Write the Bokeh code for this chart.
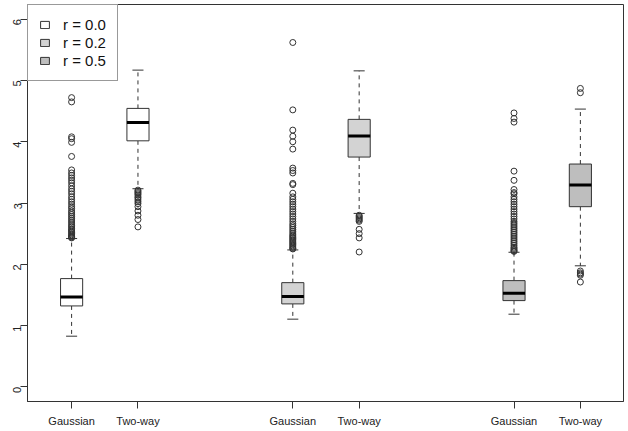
import math
from bokeh.plotting import figure
from bokeh.models import ColumnDataSource, Range1d, FixedTicker
from bokeh.embed import file_html
from bokeh.resources import INLINE

# ---- data ----
groups = ["r = 0.0", "r = 0.2", "r = 0.5"]
methods = ["Gaussian", "Two-way"]
fills = ["#ffffff", "#d3d3d3", "#bebebe"]

# order: (r=0.0,Gaussian), (r=0.0,Two-way), (r=0.2,Gaussian), ...
lower_whisker = [0.826, 3.233, 1.104, 2.830, 1.185, 1.975]
q1 = [1.320, 4.015, 1.353, 3.750, 1.407, 2.940]
median = [1.467, 4.313, 1.472, 4.093, 1.528, 3.294]
q3 = [1.766, 4.544, 1.700, 4.365, 1.733, 3.636]
upper_whisker = [2.420, 5.169, 2.234, 5.157, 2.196, 4.533]

outliers = [
    [4.72, 4.65, 4.08, 4.05, 3.99, 3.76, 3.54, 3.49, 3.45, 3.41, 3.37, 3.33, 3.28,
     3.23, 3.19, 3.15, 3.10, 3.06, 3.02, 2.98, 2.94, 2.91, 2.87, 2.84, 2.81, 2.78,
     2.75, 2.72, 2.69, 2.66, 2.63, 2.61, 2.58, 2.56, 2.54, 2.52, 2.50, 2.48, 2.46,
     2.45, 2.44, 2.43],
    [3.21, 3.19, 3.17, 3.15, 3.13, 3.10, 3.08, 3.05, 3.02, 2.99, 2.94, 2.87, 2.80,
     2.73, 2.61],
    [5.62, 4.52, 4.19, 4.09, 4.00, 3.88, 3.57, 3.53, 3.49, 3.32, 3.30, 3.16, 3.10,
     3.06, 3.02, 2.98, 2.94, 2.90, 2.86, 2.82, 2.78, 2.74, 2.70, 2.66, 2.63, 2.60,
     2.57, 2.54, 2.51, 2.48, 2.46, 2.44, 2.42, 2.40, 2.38, 2.36, 2.34, 2.32, 2.30,
     2.28, 2.26, 2.25],
    [2.80, 2.78, 2.76, 2.74, 2.72, 2.70, 2.57, 2.50, 2.43, 2.20],
    [4.47, 4.38, 4.32, 3.52, 3.37, 3.22, 3.17, 3.15, 3.10, 3.06, 3.02, 2.98, 2.94,
     2.90, 2.86, 2.82, 2.78, 2.74, 2.70, 2.67, 2.64, 2.61, 2.58, 2.55, 2.52, 2.49,
     2.46, 2.43, 2.40, 2.37, 2.34, 2.31, 2.28, 2.26, 2.24, 2.22, 2.21],
    [4.87, 4.80, 1.89, 1.86, 1.84, 1.82, 1.71],
]

y_ticks = [0, 1, 2, 3, 4, 5, 6]

# ---- layout helpers ----
offset = {"Gaussian": -0.15, "Two-way": 0.15}
box_w = 0.1
cap_w = 0.05

xs, labels, colors, tick_labels = [], [], [], {}
for gi, g in enumerate(groups):
    for m in methods:
        x = gi + 1 + offset[m]
        xs.append(x)
        labels.append(g)
        colors.append(fills[gi])
        tick_labels[x] = m

src = ColumnDataSource(dict(
    x=xs, label=labels, color=colors,
    lw=lower_whisker, q1=q1, med=median, q3=q3, uw=upper_whisker,
    x0=[x - box_w / 2 for x in xs], x1=[x + box_w / 2 for x in xs],
    c0=[x - cap_w / 2 for x in xs], c1=[x + cap_w / 2 for x in xs],
))

ox, oy = [], []
for x, vals in zip(xs, outliers):
    for v in vals:
        ox.append(x)
        oy.append(v)

p = figure(width=628, height=431, output_backend="svg", toolbar_location=None,
           title=None,
           x_range=Range1d(0.6506, 3.345), y_range=Range1d(-0.24, 6.24),
           min_border_left=27, min_border_right=5, min_border_top=4,
           min_border_bottom=30)
p.background_fill_color = "white"
p.border_fill_color = "white"
p.outline_line_color = "#333333"
p.outline_line_width = 1
p.xgrid.visible = False
p.ygrid.visible = False

ink = "#333333"
# whiskers
p.segment(x0="x", y0="q3", x1="x", y1="uw", source=src, line_color=ink,
          line_dash="4 4", line_width=1)
p.segment(x0="x", y0="q1", x1="x", y1="lw", source=src, line_color=ink,
          line_dash="4 4", line_width=1)
# caps
p.segment(x0="c0", y0="uw", x1="c1", y1="uw", source=src, line_color=ink, line_width=1)
p.segment(x0="c0", y0="lw", x1="c1", y1="lw", source=src, line_color=ink, line_width=1)
# boxes
p.vbar(x="x", width=box_w, bottom="q1", top="q3", source=src, fill_color="color",
       line_color=ink, line_width=1, legend_group="label")
# medians
p.segment(x0="x0", y0="med", x1="x1", y1="med", source=src, line_color="black",
          line_width=3)
# outliers
p.scatter(ox, oy, marker="circle", size=6, fill_color=None, line_color=ink,
          line_width=1)

font = "Liberation Sans"
for ax in (p.xaxis[0], p.yaxis[0]):
    ax.axis_line_color = ink
    ax.major_tick_line_color = ink
    ax.minor_tick_line_color = None
    ax.major_tick_out = 7
    ax.major_tick_in = 0
    ax.major_label_text_font = font
    ax.major_label_text_font_size = "11px"
    ax.major_label_text_color = "#222222"

p.xaxis.ticker = FixedTicker(ticks=xs)
p.xaxis.major_label_overrides = tick_labels
p.xaxis.major_label_standoff = 6

p.yaxis.ticker = FixedTicker(ticks=y_ticks)
p.yaxis.major_label_orientation = math.pi / 2
p.yaxis.major_label_standoff = 3

lg = p.legend[0]
lg.location = "top_left"
lg.margin = 0
lg.padding = 11
lg.spacing = 1
lg.label_standoff = 13
lg.glyph_width = 11
lg.glyph_height = 9
lg.label_height = 17
lg.label_text_font = font
lg.label_text_font_size = "15px"
lg.label_text_color = "#111111"
lg.border_line_color = ink
lg.border_line_width = 1
lg.background_fill_alpha = 1

open("out.html", "w").write(file_html(p, INLINE))
